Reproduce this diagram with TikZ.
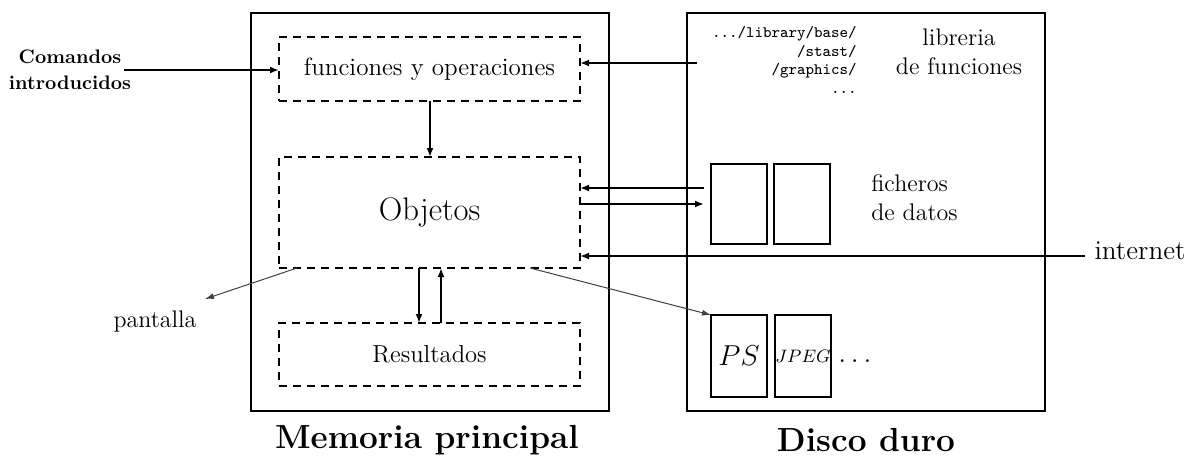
\documentclass[tikz,border=0pt]{standalone}
\usetikzlibrary{arrows.meta}
\begin{document}
\begin{tikzpicture}[x=0.5pt,y=-0.5pt,
  outerbox/.style={draw,line width=0.9pt,inner sep=0pt,outer sep=0pt,minimum width=179pt,minimum height=199pt},
  dbox/.style={draw,line width=0.9pt,dash pattern=on 4pt off 3pt,inner sep=0pt,outer sep=0pt,minimum width=150.5pt},
  fbox/.style={draw,line width=1pt,inner sep=0pt,outer sep=0pt,minimum width=28pt},
  arr/.style={line width=0.9pt,-{Latex[length=4.5pt,width=3.5pt]}},
  thinarr/.style={line width=0.5pt,draw=black!75,-{Latex[length=4.5pt,width=3pt]}},
  lbl/.style={inner sep=0pt,font=\fontsize{12}{14.5}\selectfont}
]
\useasboundingbox (0,0) rectangle (1195,457);
% main boxes
\node[outerbox] (mem) at (430,212) {};
\node[outerbox] (disco) at (866,212) {};
% dashed boxes
\node[dbox,minimum height=32pt,font=\fontsize{12.5}{15}\selectfont] (fun) at (429.5,69) {funciones y operaciones};
\node[dbox,minimum height=55.5pt,font=\fontsize{16.3}{19}\selectfont] (obj) at (429.5,212.5) {Objetos};
\node[dbox,minimum height=31.5pt,font=\fontsize{12.3}{15}\selectfont] (res) at (429.5,354.5) {Resultados};
% file boxes
\node[fbox,minimum height=40pt] (f1) at (739,204) {};
\node[fbox,minimum height=40pt] (f2) at (802,204) {};
\node[fbox,minimum height=41pt,font=\fontsize{15}{18}\selectfont] (p1) at (739,356) {$PS$};
\node[fbox,minimum height=41pt,font=\fontsize{9}{11}\selectfont] (p2) at (803,356) {$JPEG$};
\node[inner sep=0pt,anchor=base west,font=\fontsize{15}{17}\selectfont] (dots) at (838,362) {$\ldots$};
% labels
\node[inner sep=0pt,align=center,font=\bfseries\fontsize{9.8}{13}\selectfont] (cmd) at (70,70) {Comandos\\introducidos};
\node[inner sep=0pt,anchor=east,align=right,font=\ttfamily\fontsize{8}{9.2}\selectfont] (lib) at (857,60) {.../library/base/\\/stast/\\/graphics/\\...};
\node[lbl,align=center] (libl) at (959,51.5) {libreria\\de funciones};
\node[lbl,align=left,anchor=west] (fich) at (871,197.5) {ficheros\\de datos};
\node[lbl,font=\fontsize{13.6}{16}\selectfont] (internet) at (1140,251) {internet};
\node[lbl] (pant) at (155,321) {pantalla};
\node[inner sep=0pt,font=\bfseries\fontsize{16.7}{20}\selectfont] (memt) at (427,440) {Memoria principal};
\node[inner sep=0pt,font=\bfseries\fontsize{16.7}{20}\selectfont] (disct) at (866,440) {Disco duro};
% connectors
\coordinate (cmdend) at (124,70);
\draw[arr] (cmdend) -- (fun.west |- cmdend);
\coordinate (libst) at (697,63);
\draw[arr] (libst) -- (fun.east |- libst);
\draw[arr] ([xshift=0.25pt]fun.south) -- ([xshift=0.25pt]obj.north);
\draw[arr] ([xshift=-5.25pt]obj.south) -- ([xshift=-5.25pt]res.north);
\draw[arr] ([xshift=5.75pt]res.north) -- ([xshift=5.75pt]obj.south);
\coordinate (fa) at (704,188);
\draw[arr] (fa) -- (obj.east |- fa);
\coordinate (fb) at (704,204);
\draw[arr] (obj.east |- fb) -- (fb);
\coordinate (inet) at (1085,256);
\draw[arr] (inet) -- (obj.east |- inet);
\coordinate (pantend) at (205,299);
\draw[thinarr] ([xshift=9pt]obj.south west) -- (pantend);
\draw[thinarr] ([xshift=-25pt]obj.south east) -- (p1.north west);
\end{tikzpicture}
\end{document}
